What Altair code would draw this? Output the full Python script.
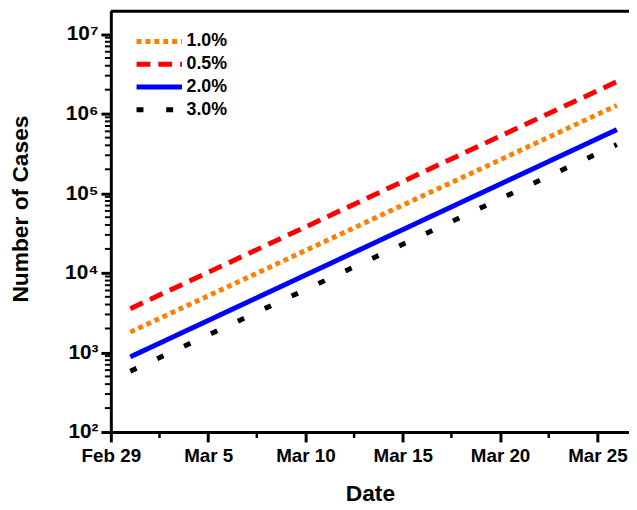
import altair as alt
import pandas as pd

# ---- data ----
dates = ["2020-03-01T00:00:00", "2020-03-26T00:00:00"]
series = ["1.0%", "0.5%", "2.0%", "3.0%"]
cases_10 = [1800, 1270000]
cases_05 = [3550, 2520000]
cases_20 = [880, 630000]
cases_30 = [580, 410000]
colors = ["#FF8000", "#FF0000", "#0000FF", "#000000"]
dashes = [[5, 4], [14, 8], [1, 0], [7, 23]]

y_major = [100, 1000, 10000, 100000, 1000000, 10000000]
y_major_labels = ["10²", "10³", "10⁴", "10⁵", "10⁶", "10⁷"]
y_minor = [k * m for m in y_major[:-1] for k in range(2, 10)]

x_major_days = [(2, 29), (3, 5), (3, 10), (3, 15), (3, 20), (3, 25)]
x_minor_dates = ["2020-03-02T12:00:00", "2020-03-07T12:00:00", "2020-03-12T12:00:00",
                 "2020-03-17T12:00:00", "2020-03-22T12:00:00"]

rows = []
for name, vals in zip(series, [cases_10, cases_05, cases_20, cases_30]):
    for d, v in zip(dates, vals):
        rows.append({"date": d, "cases": v, "series": name})
df = pd.DataFrame(rows)
df_yminor = pd.DataFrame({"cases": y_minor})
df_xminor = pd.DataFrame({"date": x_minor_dates})

W, H = 524, 426
FONT = "Liberation Sans"

y_label_expr = " : ".join(f"datum.value == {v} ? '{l}'" for v, l in zip(y_major, y_major_labels)) + " : ''"

x_scale = alt.Scale(domain=[alt.DateTime(year=2020, month=2, date=29),
                            alt.DateTime(year=2020, month=3, date=26, hours=15)], nice=False)
y_scale = alt.Scale(type="log", domain=[100, 19600000], nice=False)

x_axis = alt.Axis(
    orient="bottom",
    values=[alt.DateTime(year=2020, month=m, date=d) for m, d in x_major_days],
    format="%b %-d",
    title="Date", titleFont=FONT, titleFontSize=23, titleFontWeight="bold",
    titleBaseline="alphabetic", titleY=69,
    labelFont=FONT, labelFontSize=19, labelFontWeight="bold", labelPadding=5,
    labelFlush=False, labelOverlap=False, labelColor="black",
    grid=False, domainColor="black", domainWidth=3,
    tickColor="black", tickSize=10, tickWidth=3,
)

y_axis = alt.Axis(
    orient="left",
    values=y_major,
    labelExpr=y_label_expr,
    title="Number of Cases", titleFont=FONT, titleFontSize=23, titleFontWeight="bold",
    titleBaseline="middle", titleX=-91, titleY=200, titleAngle=270,
    labelFont=FONT, labelFontSize=21, labelFontWeight="bold", labelPadding=3,
    labelOverlap=False, labelFlush=False, labelColor="black",
    grid=False, domainColor="black", domainWidth=3,
    tickColor="black", tickSize=10, tickWidth=3,
)

lines = alt.Chart(df).mark_line(strokeWidth=5, strokeCap="butt").encode(
    x=alt.X("date:T", axis=x_axis, scale=x_scale),
    y=alt.Y("cases:Q", axis=y_axis, scale=y_scale),
    color=alt.Color("series:N", title=None,
                    scale=alt.Scale(domain=series, range=colors)),
    strokeDash=alt.StrokeDash("series:N", title=None,
                              scale=alt.Scale(domain=series, range=dashes)),
)

# minor ticks, positioned through the shared scales
y_minor_ticks = alt.Chart(df_yminor).mark_rule(color="black", strokeWidth=2, clip=False).encode(
    y=alt.Y("cases:Q", scale=y_scale),
    x=alt.value(-6), x2=alt.value(0),
)
x_minor_ticks = alt.Chart(df_xminor).mark_rule(color="black", strokeWidth=2.5, clip=False).encode(
    x=alt.X("date:T", scale=x_scale),
    y=alt.value(H), y2=alt.value(H + 6),
)

top_border = alt.Chart(pd.DataFrame({"a": [0]})).mark_rule(color="black", strokeWidth=3, clip=False).encode(
    x=alt.value(0), x2=alt.value(W), y=alt.value(0.5)
)

chart = alt.layer(lines, y_minor_ticks, x_minor_ticks, top_border).properties(
    width=W, height=H,
    autosize=alt.AutoSizeParams(type="none"),
    padding={"left": 104, "top": 0, "right": 0, "bottom": 76},
).configure_view(stroke=None).configure_legend(
    orient="none", legendX=23.5, legendY=19.5,
    symbolType="stroke", symbolSize=2116, symbolStrokeWidth=5,
    clipHeight=23, rowPadding=0, padding=0,
    labelFont=FONT, labelFontSize=18, labelFontWeight="bold", labelOffset=2,
    labelColor="black",
)

chart.save("out.html", embed_options={"renderer": "svg", "actions": False})
